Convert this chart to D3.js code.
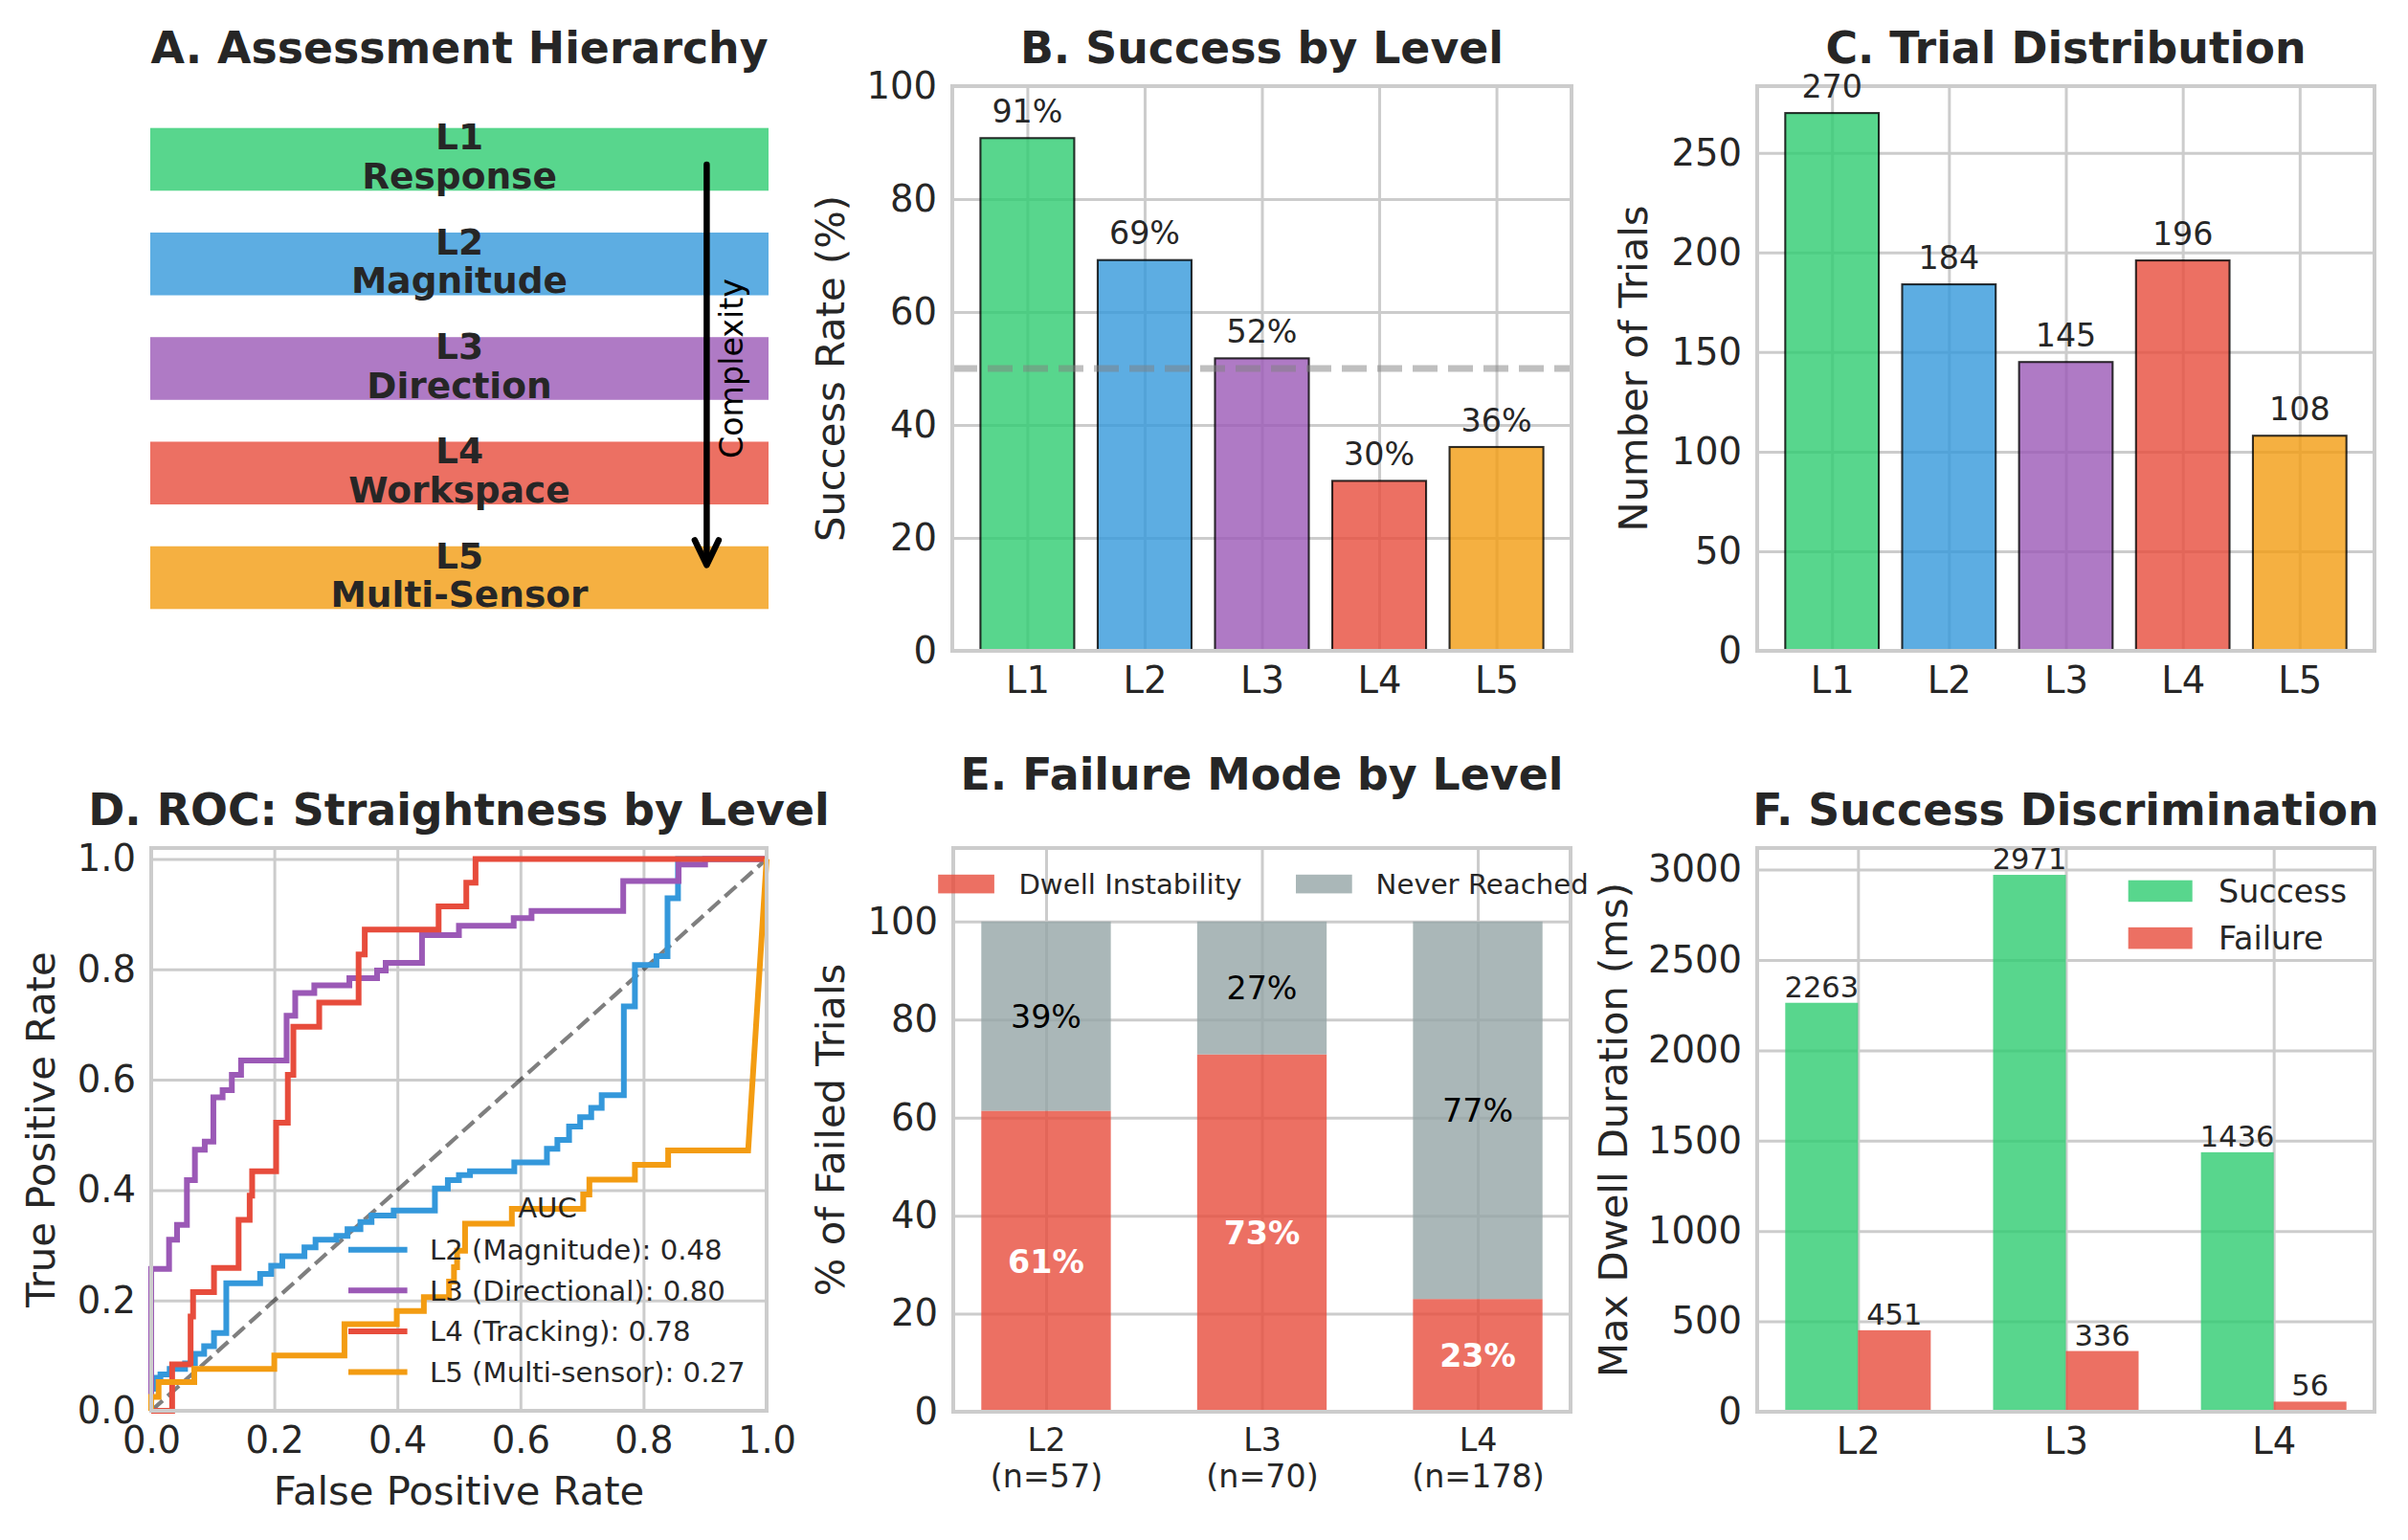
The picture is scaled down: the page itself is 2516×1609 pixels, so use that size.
<!DOCTYPE html>
<html>
<head>
<meta charset="utf-8">
<title>Assessment Levels</title>
<script src="https://d3js.org/d3.v7.min.js"></script>
<style>
    body { margin: 0; background: #ffffff; }
    svg { display: block; font-family: 'DejaVu Sans', sans-serif; }
    text { fill: #262626; }
    .grid line { stroke: #cccccc; stroke-width: 3; }
    .frame { fill: none; stroke: #cccccc; stroke-width: 4; }
</style>
</head>
<body>
<div id="chart"></div>
<script>
// ---- data ----
var levels = ["L1", "L2", "L3", "L4", "L5"];
var levelNames = ["Response", "Magnitude", "Direction", "Workspace", "Multi-Sensor"];
var levelColors = ["#2ecc71", "#3498db", "#9b59b6", "#e74c3c", "#f39c12"];
var successRate = [90.8, 69.2, 51.8, 30.1, 36.1];
var trialCounts = [270, 184, 145, 196, 108];

var failLevels = ["L2", "L3", "L4"];
var failN = [57, 70, 178];
var dwellInstability = [61.4, 72.9, 23.0];
var neverReached = [38.6, 27.1, 77.0];

var dwellSuccess = [2263, 2971, 1436];
var dwellFailure = [451, 336, 56];

var rocNames = ["L2 (Magnitude)", "L3 (Directional)", "L4 (Tracking)", "L5 (Multi-sensor)"];
var rocColors = ["#3498db", "#9b59b6", "#e74c3c", "#f39c12"];
var rocAuc = [0.48, 0.80, 0.78, 0.27];

var rocMagnitude = [[0,0],[0,0.04],[0.005,0.04],[0.005,0.06],[0.015,0.06],[0.015,0.066],[0.03,0.066],[0.03,0.076],
    [0.055,0.076],[0.055,0.086],[0.071,0.086],[0.071,0.103],[0.086,0.103],[0.086,0.117],[0.102,0.117],[0.102,0.141],
    [0.122,0.141],[0.122,0.231],[0.177,0.231],[0.177,0.248],[0.195,0.248],[0.195,0.263],[0.213,0.263],[0.213,0.28],
    [0.249,0.28],[0.249,0.296],[0.267,0.296],[0.267,0.31],[0.301,0.31],[0.301,0.317],[0.319,0.317],[0.319,0.329],
    [0.34,0.329],[0.34,0.342],[0.358,0.342],[0.358,0.354],[0.394,0.354],[0.394,0.363],[0.461,0.363],[0.461,0.403],
    [0.482,0.403],[0.482,0.418],[0.5,0.418],[0.5,0.427],[0.518,0.427],[0.518,0.434],[0.59,0.434],[0.59,0.45],
    [0.643,0.45],[0.643,0.475],[0.66,0.475],[0.66,0.491],[0.679,0.491],[0.679,0.515],[0.697,0.515],[0.697,0.532],
    [0.715,0.532],[0.715,0.549],[0.732,0.549],[0.732,0.572],[0.768,0.572],[0.768,0.733],[0.786,0.733],[0.786,0.808],
    [0.821,0.808],[0.821,0.824],[0.839,0.824],[0.839,0.929],[0.856,0.929],[0.856,1],[1,1]];
var rocDirectional = [[0,0],[0,0.257],[0.029,0.257],[0.029,0.31],[0.042,0.31],[0.042,0.337],[0.058,0.337],[0.058,0.418],
    [0.071,0.418],[0.071,0.473],[0.087,0.473],[0.087,0.488],[0.101,0.488],[0.101,0.568],[0.116,0.568],[0.116,0.581],
    [0.131,0.581],[0.131,0.609],[0.146,0.609],[0.146,0.635],[0.22,0.635],[0.22,0.716],[0.234,0.716],[0.234,0.757],
    [0.265,0.757],[0.265,0.771],[0.322,0.771],[0.322,0.784],[0.367,0.784],[0.367,0.798],[0.381,0.798],[0.381,0.812],
    [0.44,0.812],[0.44,0.862],[0.5,0.862],[0.5,0.879],[0.589,0.879],[0.589,0.893],[0.618,0.893],[0.618,0.906],
    [0.767,0.906],[0.767,0.96],[0.857,0.96],[0.857,0.99],[0.9,0.99],[0.9,1],[1,1]];
var rocTracking = [[0,0],[0.034,0],[0.034,0.084],[0.064,0.084],[0.064,0.171],[0.068,0.171],[0.068,0.215],[0.102,0.215],
    [0.102,0.259],[0.142,0.259],[0.142,0.346],[0.16,0.346],[0.16,0.39],[0.164,0.39],[0.164,0.434],[0.203,0.434],
    [0.203,0.522],[0.222,0.522],[0.222,0.609],[0.231,0.609],[0.231,0.696],[0.273,0.696],[0.273,0.74],[0.337,0.74],
    [0.337,0.827],[0.347,0.827],[0.347,0.872],[0.467,0.872],[0.467,0.914],[0.512,0.914],[0.512,0.957],[0.527,0.957],
    [0.527,1],[1,1]];
var rocMultiSensor = [[0,0],[0,0.025],[0.012,0.025],[0.012,0.052],[0.07,0.052],[0.07,0.076],[0.2,0.076],[0.2,0.1],
    [0.314,0.1],[0.314,0.157],[0.399,0.157],[0.399,0.181],[0.443,0.181],[0.443,0.206],[0.484,0.206],[0.484,0.234],
    [0.492,0.234],[0.492,0.26],[0.497,0.26],[0.497,0.29],[0.51,0.29],[0.51,0.339],[0.586,0.339],[0.586,0.366],
    [0.702,0.366],[0.702,0.392],[0.712,0.392],[0.712,0.419],[0.786,0.419],[0.786,0.446],[0.84,0.446],[0.84,0.472],
    [0.97,0.472],[1,1]];
var rocCurves = [rocMagnitude, rocDirectional, rocTracking, rocMultiSensor];

// ---- layout ----
var W = 2516, H = 1609;
var boxA = {x: 157, y: 90, w: 646, h: 590};
var boxB = {x: 995, y: 90, w: 647, h: 590};
var boxC = {x: 1836, y: 90, w: 645, h: 590};
var boxD = {x: 158, y: 886, w: 643, h: 588};
var boxE = {x: 996, y: 886, w: 645, h: 589};
var boxF = {x: 1836, y: 886, w: 645, h: 589};

var fsTitle = 45.8, fsLabel = 41.7, fsTick = 38.5, fsAnnot = 33.3, fsSmall = 29.2;

var svg = d3.select("#chart").append("svg")
    .attr("width", W)
    .attr("height", H);

function panel(box) {
    return svg.append("g").attr("transform", "translate(" + box.x + "," + box.y + ")");
}

function title(g, box, txt, y) {
    g.append("text")
        .attr("x", box.w / 2)
        .attr("y", y)
        .attr("text-anchor", "middle")
        .attr("font-size", fsTitle)
        .attr("font-weight", "bold")
        .text(txt);
}

function grid(g, box, x, y, xTicks, yTicks) {
    g.append("g").attr("class", "grid")
        .call(d3.axisLeft(y).tickValues(yTicks).tickSize(-box.w).tickFormat(""))
        .call(s => s.select(".domain").remove());
    g.append("g").attr("class", "grid")
        .attr("transform", "translate(0," + box.h + ")")
        .call(d3.axisBottom(x).tickValues(xTicks).tickSize(-box.h).tickFormat(""))
        .call(s => s.select(".domain").remove());
}

function axes(g, box, x, y, xTicks, yTicks, xFmt, yFmt, xSize) {
    g.append("g")
        .call(d3.axisLeft(y).tickValues(yTicks).tickSize(0).tickPadding(16).tickFormat(yFmt))
        .call(s => s.select(".domain").remove())
        .attr("font-size", fsTick).attr("font-family", null).attr("color", "#262626");
    return g.append("g")
        .attr("transform", "translate(0," + box.h + ")")
        .call(d3.axisBottom(x).tickValues(xTicks).tickSize(0).tickPadding(17).tickFormat(xFmt))
        .call(s => s.select(".domain").remove())
        .attr("font-size", xSize || fsTick).attr("font-family", null).attr("color", "#262626");
}

function frame(g, box) {
    g.append("rect").attr("class", "frame").attr("width", box.w).attr("height", box.h);
}

function ylabel(g, box, txt, offset) {
    g.append("text")
        .attr("transform", "translate(" + (offset + 12) + "," + (box.h / 2) + ") rotate(-90)")
        .attr("text-anchor", "middle")
        .attr("font-size", fsLabel)
        .text(txt);
}

// ---- A. Assessment Hierarchy ----
var gA = panel(boxA);
var xA = d3.scaleLinear().domain([0, 10]).range([0, boxA.w]);
var yA = d3.scaleLinear().domain([5.7, 0.3]).range([0, boxA.h]);
title(gA, boxA, "A. Assessment Hierarchy", -24);

levels.forEach(function(lv, i) {
    var pos = 5 - i;
    gA.append("rect")
        .attr("x", xA(0))
        .attr("y", yA(pos + 0.3))
        .attr("width", xA(10) - xA(0))
        .attr("height", yA(pos - 0.3) - yA(pos + 0.3))
        .attr("fill", levelColors[i])
        .attr("fill-opacity", 0.8);
    var t = gA.append("text")
        .attr("x", xA(5))
        .attr("y", yA(pos))
        .attr("text-anchor", "middle")
        .attr("font-size", 37.5)
        .attr("font-weight", "bold");
    t.append("tspan").attr("x", xA(5)).attr("dy", -10).text(lv);
    t.append("tspan").attr("x", xA(5)).attr("dy", 40.5).text(levelNames[i]);
});

// complexity arrow
var arrowX = xA(9), arrowTop = yA(4.95), arrowTip = yA(1.12);
gA.append("line")
    .attr("x1", arrowX).attr("x2", arrowX)
    .attr("y1", arrowTop).attr("y2", arrowTip - 2)
    .attr("stroke", "#000").attr("stroke-width", 6.5).attr("stroke-linecap", "round");
gA.append("path")
    .attr("d", "M" + (arrowX - 12.5) + "," + (arrowTip - 26) + "L" + arrowX + "," + arrowTip + "L" + (arrowX + 12.5) + "," + (arrowTip - 26))
    .attr("fill", "none").attr("stroke", "#000").attr("stroke-width", 6.5)
    .attr("stroke-linecap", "round").attr("stroke-linejoin", "round");
gA.append("text")
    .attr("transform", "translate(" + (xA(9.44) + 9) + "," + yA(3) + ") rotate(-90)")
    .attr("text-anchor", "middle")
    .attr("font-size", fsAnnot)
    .style("fill", "#000")
    .text("Complexity");

// ---- B. Success by Level ----
var gB = panel(boxB);
var xB = d3.scaleLinear().domain([-0.64, 4.64]).range([0, boxB.w]);
var yB = d3.scaleLinear().domain([0, 100]).range([boxB.h, 0]);
var idx5 = d3.range(5);
grid(gB, boxB, xB, yB, idx5, d3.range(0, 101, 20));
gB.selectAll(".bar").data(successRate).enter().append("rect")
    .attr("x", (d, i) => xB(i - 0.4))
    .attr("y", d => yB(d))
    .attr("width", xB(0.4) - xB(-0.4))
    .attr("height", d => yB(0) - yB(d))
    .attr("fill", (d, i) => levelColors[i])
    .attr("fill-opacity", 0.8)
    .attr("stroke", "#000").attr("stroke-opacity", 0.8).attr("stroke-width", 2.1);
gB.append("line")
    .attr("x1", 0).attr("x2", boxB.w)
    .attr("y1", yB(50)).attr("y2", yB(50))
    .attr("stroke", "#808080").attr("stroke-opacity", 0.5)
    .attr("stroke-width", 7).attr("stroke-dasharray", "26,11");
axes(gB, boxB, xB, yB, idx5, d3.range(0, 101, 20), i => levels[i], d3.format("d"));
frame(gB, boxB);
gB.selectAll(".val").data(successRate).enter().append("text")
    .attr("x", (d, i) => xB(i))
    .attr("y", d => yB(d) - 16.5)
    .attr("text-anchor", "middle")
    .attr("font-size", fsAnnot)
    .text(d => d3.format(".0f")(d) + "%");
title(gB, boxB, "B. Success by Level", -24);
ylabel(gB, boxB, "Success Rate (%)", -125.5);

// ---- C. Trial Distribution ----
var gC = panel(boxC);
var xC = d3.scaleLinear().domain([-0.64, 4.64]).range([0, boxC.w]);
var yC = d3.scaleLinear().domain([0, 270 * 1.05]).range([boxC.h, 0]);
grid(gC, boxC, xC, yC, idx5, d3.range(0, 251, 50));
gC.selectAll(".bar").data(trialCounts).enter().append("rect")
    .attr("x", (d, i) => xC(i - 0.4))
    .attr("y", d => yC(d))
    .attr("width", xC(0.4) - xC(-0.4))
    .attr("height", d => yC(0) - yC(d))
    .attr("fill", (d, i) => levelColors[i])
    .attr("fill-opacity", 0.8)
    .attr("stroke", "#000").attr("stroke-opacity", 0.8).attr("stroke-width", 2.1);
axes(gC, boxC, xC, yC, idx5, d3.range(0, 251, 50), i => levels[i], d3.format("d"));
frame(gC, boxC);
gC.selectAll(".val").data(trialCounts).enter().append("text")
    .attr("x", (d, i) => xC(i))
    .attr("y", d => yC(d) - 16.5)
    .attr("text-anchor", "middle")
    .attr("font-size", fsAnnot)
    .text(d => d);
title(gC, boxC, "C. Trial Distribution", -24);
ylabel(gC, boxC, "Number of Trials", -127);

// ---- D. ROC ----
var gD = panel(boxD);
var xD = d3.scaleLinear().domain([0, 1]).range([0, boxD.w]);
var yD = d3.scaleLinear().domain([0, 1.02]).range([boxD.h, 0]);
var tD = d3.range(0, 1.01, 0.2);
grid(gD, boxD, xD, yD, tD, tD);
gD.append("line")
    .attr("x1", xD(0)).attr("y1", yD(0)).attr("x2", xD(1)).attr("y2", yD(1))
    .attr("stroke", "#000").attr("stroke-opacity", 0.5)
    .attr("stroke-width", 4.2).attr("stroke-dasharray", "16,7");
var rocLine = d3.line().x(d => xD(d[0])).y(d => yD(d[1]));
rocCurves.forEach(function(c, i) {
    gD.append("path")
        .attr("d", rocLine(c))
        .attr("fill", "none")
        .attr("stroke", rocColors[i])
        .attr("stroke-width", 6)
        .attr("stroke-linejoin", "miter");
});
axes(gD, boxD, xD, yD, tD, tD, d3.format(".1f"), d3.format(".1f"));
frame(gD, boxD);
title(gD, boxD, "D. ROC: Straightness by Level", -24);
ylabel(gD, boxD, "True Positive Rate", -113);
gD.append("text")
    .attr("x", boxD.w / 2)
    .attr("y", 98 + boxD.h)
    .attr("text-anchor", "middle")
    .attr("font-size", fsLabel)
    .text("False Positive Rate");

// legend (no frame)
var legD = gD.append("g").attr("transform", "translate(206,376)");
legD.append("text")
    .attr("x", 208).attr("y", 0).attr("dy", "0.35em")
    .attr("text-anchor", "middle")
    .attr("font-size", fsSmall)
    .text("AUC");
rocNames.forEach(function(n, i) {
    var yy = 43.7 + i * 42.6;
    legD.append("line")
        .attr("x1", 0).attr("x2", 61.6).attr("y1", yy).attr("y2", yy)
        .attr("stroke", rocColors[i]).attr("stroke-width", 6);
    legD.append("text")
        .attr("x", 85).attr("y", yy).attr("dy", "0.35em")
        .attr("font-size", fsSmall)
        .text(n + ": " + d3.format(".2f")(rocAuc[i]));
});

// ---- E. Failure Mode by Level ----
var gE = panel(boxE);
var xE = d3.scaleLinear().domain([-0.43, 2.43]).range([0, boxE.w]);
var yE = d3.scaleLinear().domain([0, 115]).range([boxE.h, 0]);
var idx3 = d3.range(3);
grid(gE, boxE, xE, yE, idx3, d3.range(0, 101, 20));
gE.selectAll(".dwell").data(dwellInstability).enter().append("rect")
    .attr("x", (d, i) => xE(i - 0.3))
    .attr("y", d => yE(d))
    .attr("width", xE(0.3) - xE(-0.3))
    .attr("height", d => yE(0) - yE(d))
    .attr("fill", "#e74c3c").attr("fill-opacity", 0.8);
gE.selectAll(".never").data(neverReached).enter().append("rect")
    .attr("x", (d, i) => xE(i - 0.3))
    .attr("y", (d, i) => yE(dwellInstability[i] + d))
    .attr("width", xE(0.3) - xE(-0.3))
    .attr("height", (d, i) => yE(dwellInstability[i]) - yE(dwellInstability[i] + d))
    .attr("fill", "#95a5a6").attr("fill-opacity", 0.8);
gE.selectAll(".dlab").data(dwellInstability).enter().append("text")
    .attr("x", (d, i) => xE(i))
    .attr("y", d => yE(d / 2)).attr("dy", "0.36em")
    .attr("text-anchor", "middle")
    .attr("font-size", fsAnnot).attr("font-weight", "bold")
    .style("fill", "#ffffff")
    .text(d => d3.format(".0f")(d) + "%");
gE.selectAll(".nlab").data(neverReached).enter().append("text")
    .attr("x", (d, i) => xE(i))
    .attr("y", (d, i) => yE(dwellInstability[i] + d / 2)).attr("dy", "0.36em")
    .attr("text-anchor", "middle")
    .attr("font-size", fsAnnot)
    .style("fill", "#000")
    .text(d => d3.format(".0f")(d) + "%");
var xAxE = axes(gE, boxE, xE, yE, idx3, d3.range(0, 101, 20), i => failLevels[i], d3.format("d"), fsAnnot);
xAxE.selectAll(".tick text").each(function(d) {
    var t = d3.select(this);
    t.text(null);
    t.append("tspan").attr("x", 0).text(failLevels[d]);
    t.append("tspan").attr("x", 0).attr("dy", "1.15em").text("(n=" + failN[d] + ")");
});
frame(gE, boxE);
title(gE, boxE, "E. Failure Mode by Level", -61);
ylabel(gE, boxE, "% of Failed Trials", -126);

var legE = gE.append("g").attr("transform", "translate(0,27.8)");
[["Dwell Instability", "#e74c3c", -15.8, 68.4], ["Never Reached", "#95a5a6", 358, 441.6]].forEach(function(it) {
    legE.append("rect")
        .attr("x", it[2]).attr("y", 0).attr("width", 58.7).attr("height", 19.6)
        .attr("fill", it[1]).attr("fill-opacity", 0.8);
    legE.append("text")
        .attr("x", it[3]).attr("y", 9.8).attr("dy", "0.35em")
        .attr("font-size", fsSmall)
        .text(it[0]);
});

// ---- F. Success Discrimination ----
var gF = panel(boxF);
var xF = d3.scaleLinear().domain([-0.485, 2.485]).range([0, boxF.w]);
var yF = d3.scaleLinear().domain([0, 2971 * 1.05]).range([boxF.h, 0]);
var bw = 0.35;
grid(gF, boxF, xF, yF, idx3, d3.range(0, 3001, 500));
gF.selectAll(".succ").data(dwellSuccess).enter().append("rect")
    .attr("x", (d, i) => xF(i - bw))
    .attr("y", d => yF(d))
    .attr("width", xF(bw) - xF(0))
    .attr("height", d => yF(0) - yF(d))
    .attr("fill", "#2ecc71").attr("fill-opacity", 0.8);
gF.selectAll(".fail").data(dwellFailure).enter().append("rect")
    .attr("x", (d, i) => xF(i))
    .attr("y", d => yF(d))
    .attr("width", xF(bw) - xF(0))
    .attr("height", d => yF(0) - yF(d))
    .attr("fill", "#e74c3c").attr("fill-opacity", 0.8);
axes(gF, boxF, xF, yF, idx3, d3.range(0, 3001, 500), i => failLevels[i], d3.format("d"));
frame(gF, boxF);
gF.selectAll(".slab").data(dwellSuccess).enter().append("text")
    .attr("x", (d, i) => xF(i - bw / 2))
    .attr("y", d => yF(d) - 6)
    .attr("text-anchor", "middle")
    .attr("font-size", 30.5)
    .text(d => d);
gF.selectAll(".flab").data(dwellFailure).enter().append("text")
    .attr("x", (d, i) => xF(i + bw / 2))
    .attr("y", d => yF(d) - 6)
    .attr("text-anchor", "middle")
    .attr("font-size", 30.5)
    .text(d => d);
title(gF, boxF, "F. Success Discrimination", -24);
ylabel(gF, boxF, "Max Dwell Duration (ms)", -148);

var legF = gF.append("g").attr("transform", "translate(387.7,33.7)");
[["Success", "#2ecc71"], ["Failure", "#e74c3c"]].forEach(function(it, i) {
    legF.append("rect")
        .attr("x", 0).attr("y", i * 49.2).attr("width", 67).attr("height", 22.5)
        .attr("fill", it[1]).attr("fill-opacity", 0.8);
    legF.append("text")
        .attr("x", 94.3).attr("y", i * 49.2 + 11.2).attr("dy", "0.35em")
        .attr("font-size", 33.3)
        .text(it[0]);
});
</script>
</body>
</html>
